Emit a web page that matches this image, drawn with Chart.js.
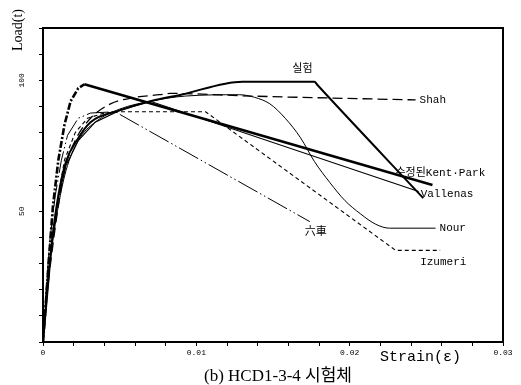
<!DOCTYPE html>
<html>
<head>
<meta charset="utf-8">
<script src="https://cdn.jsdelivr.net/npm/chart.js@4.4.1/dist/chart.umd.min.js"></script>
<style>
  html, body { margin: 0; padding: 0; background: #fff; }
  #wrap { width: 521px; height: 385px; }
</style>
</head>
<body>
<div id="wrap"><canvas id="c" width="521" height="385"></canvas></div>
<script>
// Load-strain curves for specimen HCD1-3-4: test result and six confinement models
const xTickMajors = [0, 0.01, 0.02, 0.03];
const yTickMajors = [50, 100];

const testStrain = [0, 0.0003, 0.0006, 0.001, 0.0015, 0.0022, 0.0031, 0.005, 0.007, 0.009, 0.013, 0.0177, 0.0179, 0.0248];
const testLoad   = [0, 20, 39, 56, 69, 77, 84, 88.5, 92, 94.5, 99.5, 99.5, 98.2, 55];

const kentStrain = [0, 0.0002, 0.0004, 0.00065, 0.001, 0.0014, 0.0018, 0.0023, 0.0027, 0.0254];
const kentLoad   = [0, 16, 33, 52, 69.5, 83, 92, 97, 98.5, 60];

const vallStrain = [0, 0.00026, 0.0006, 0.001, 0.0015, 0.0023, 0.0034, 0.005, 0.007, 0.0245];
const vallLoad   = [0, 20.5, 39.5, 55, 67.5, 77, 84, 88.5, 92, 57.5];

const shahStrain = [0, 0.00026, 0.0006, 0.001, 0.0014, 0.0021, 0.0031, 0.0044, 0.006, 0.0076, 0.0083, 0.0135, 0.0243];
const shahLoad   = [0, 18, 35, 52, 65.5, 77, 85.5, 91, 93.5, 94.5, 95, 94, 92.5];

const nourStrain = [0, 0.00026, 0.0006, 0.001, 0.0015, 0.0023, 0.0034, 0.005, 0.007, 0.0093, 0.0128, 0.0138, 0.0148, 0.0158, 0.0168, 0.0177, 0.0187, 0.0197, 0.0207, 0.0217, 0.0226, 0.0256];
const nourLoad   = [0, 20, 37, 52, 65.5, 77, 84, 89, 92, 94, 94.5, 93.5, 91, 85.5, 78, 69, 61, 54, 49, 45, 43.5, 43.5];

const izuStrain = [0, 0.00025, 0.0006, 0.001, 0.0014, 0.0021, 0.0029, 0.004, 0.005, 0.0106, 0.023, 0.0259];
const izuLoad   = [0, 20, 39, 56, 69.5, 80, 85.5, 87.5, 88, 88, 35, 35];

const mugStrain = [0, 0.0002, 0.00045, 0.0008, 0.0012, 0.0016, 0.0023, 0.0031, 0.0047, 0.0174];
const mugLoad   = [0, 20, 39, 56, 69.5, 79, 85.5, 87.5, 88, 46];

const seriesNames = ['실험', '수정된Kent·Park', 'Vallenas', 'Shah', 'Nour', 'Izumeri', '六車'];

const pts = (xs, ys) => xs.map((v, i) => ({ x: v, y: ys[i] }));
const KENT_PEAK = kentLoad.indexOf(Math.max(...kentLoad));

const datasets = [
  { label: seriesNames[0], data: pts(testStrain, testLoad), borderWidth: 2, cubicInterpolationMode: 'monotone' },
  { label: seriesNames[1], data: pts(kentStrain, kentLoad), borderWidth: 2.6, tension: 0,
    segment: { borderDash: c => c.p1DataIndex <= KENT_PEAK ? [7, 2, 2, 2] : undefined } },
  { label: seriesNames[2], data: pts(vallStrain, vallLoad), borderWidth: 1.2, tension: 0 },
  { label: seriesNames[3], data: pts(shahStrain, shahLoad), borderWidth: 1.3, borderDash: [10, 5], cubicInterpolationMode: 'monotone' },
  { label: seriesNames[4], data: pts(nourStrain, nourLoad), borderWidth: 1, cubicInterpolationMode: 'monotone' },
  { label: seriesNames[5], data: pts(izuStrain, izuLoad), borderWidth: 1.1, borderDash: [4, 3], tension: 0 },
  { label: seriesNames[6], data: pts(mugStrain, mugLoad), borderWidth: 1, borderDash: [22, 3, 1.5, 3, 1.5, 3], tension: 0 }
].map(d => Object.assign({ borderColor: '#000', backgroundColor: '#000', pointRadius: 0, fill: false }, d));

// where each series name sits: anchor point (index, -1 = last) and offset from it
const labelPlace = [
  { at: 11, dx: -12, dy: -13, align: 'center' },
  { at: -1, dx: -37, dy: -12, align: 'left' },
  { at: -1, dx: 2,   dy: 3,   align: 'left' },
  { at: -1, dx: 4,   dy: 0,   align: 'left' },
  { at: -1, dx: 4,   dy: 0,   align: 'left' },
  { at: -1, dx: -20, dy: 12,  align: 'left' },
  { at: -1, dx: 6,   dy: 10,  align: 'center' }
];

const MONO = '"Liberation Mono", "DejaVu Sans Mono", monospace';
const CJK = '"Noto Sans CJK KR", "Noto Sans CJK JP", sans-serif';

const decorate = {
  id: 'decorate',
  afterDatasetsDraw(chart) {
    const { ctx, chartArea: a, scales: { x, y } } = chart;
    ctx.save();
    ctx.strokeStyle = '#000';
    ctx.lineWidth = 2;
    ctx.strokeRect(a.left, a.top, a.right - a.left, a.bottom - a.top);

    ctx.fillStyle = '#000';
    ctx.textBaseline = 'middle';
    chart.data.datasets.forEach((ds, i) => {
      const p = labelPlace[i];
      const pt = ds.data[p.at < 0 ? ds.data.length - 1 : p.at];
      const px = x.getPixelForValue(pt.x) + p.dx;
      const py = y.getPixelForValue(pt.y) + p.dy;
      ctx.textAlign = p.align;
      ctx.font = '11px ' + MONO + ', ' + CJK;
      ctx.fillText(ds.label, px, py);
    });

    // axis titles
    ctx.font = '15px ' + MONO;
    ctx.textAlign = 'left';
    ctx.fillText('Strain(ε)', a.right - 123, a.bottom + 15);

    ctx.save();
    ctx.translate(a.left - 25, a.top + 2);
    ctx.rotate(-Math.PI / 2);
    ctx.textAlign = 'center';
    ctx.font = '14px "Liberation Serif", serif';
    ctx.fillText('Load(t)', 0, 0);
    ctx.restore();

    // caption
    ctx.textAlign = 'center';
    ctx.font = '17px "Liberation Serif", ' + CJK;
    ctx.fillText('(b) HCD1-3-4 시험체', (a.left + a.right) / 2 + 5, a.bottom + 35);
    ctx.restore();
  }
};

new Chart(document.getElementById('c'), {
  type: 'line',
  data: { datasets },
  options: {
    responsive: false,
    devicePixelRatio: 1,
    animation: false,
    layout: { padding: { left: 0, top: 28, right: 18, bottom: 0 } },
    plugins: { legend: { display: false }, tooltip: { enabled: false } },
    scales: {
      x: {
        type: 'linear', min: 0, max: 0.03,
        border: { color: '#000', width: 2 },
        grid: { drawOnChartArea: false, drawTicks: true, tickLength: 4, tickColor: '#000', lineWidth: 1 },
        ticks: {
          stepSize: 0.002, autoSkip: false, maxRotation: 0, padding: 2, color: '#000',
          font: { family: MONO, size: 8 },
          callback: v => {
            const k = Math.round(v * 1000);
            return xTickMajors.some(m => Math.round(m * 1000) === k) ? String(k / 1000) : '';
          }
        },
        afterFit: s => { s.height = 43; }
      },
      y: {
        type: 'linear', min: 0, max: 120,
        border: { color: '#000', width: 2 },
        grid: { drawOnChartArea: false, drawTicks: true, tickLength: 4, tickColor: '#000', lineWidth: 1 },
        ticks: {
          stepSize: 10, autoSkip: false, minRotation: 90, maxRotation: 90, crossAlign: 'center',
          padding: 10, color: '#000',
          font: { family: MONO, size: 8 },
          callback: v => yTickMajors.includes(v) ? String(v) : ''
        },
        afterFit: s => { s.width = 43; }
      }
    }
  },
  plugins: [decorate]
});
</script>
</body>
</html>
